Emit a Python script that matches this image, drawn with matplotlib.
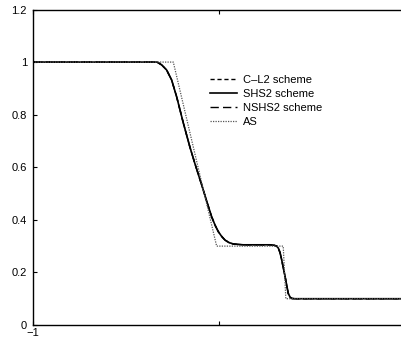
import matplotlib
matplotlib.use("Agg")
import matplotlib.pyplot as plt
import numpy as np

plt.rcParams["font.family"] = ["Liberation Sans", "DejaVu Sans"]

# exact solution (AS)
x_as = [-1.0, -0.243, -0.01, 0.348, 0.362, 1.0]
y_as = [1.0, 1.0, 0.30, 0.30, 0.10, 0.10]

# numerical schemes (curves sit on top of each other)
x_num = [-1.0, -0.33, -0.305, -0.279, -0.252, -0.225, -0.189, -0.153, -0.126,
         -0.117, -0.090, -0.063, -0.037, -0.018, -0.001, 0.017, 0.035, 0.055,
         0.080, 0.133, 0.20, 0.277, 0.300, 0.313, 0.322, 0.331, 0.340, 0.349,
         0.358, 0.367, 0.375, 0.385, 0.394, 0.41, 1.0]
y_cl2 = [1.0, 1.0, 0.989, 0.970, 0.932, 0.868, 0.768, 0.675, 0.612,
         0.592, 0.532, 0.470, 0.412, 0.379, 0.355, 0.337, 0.323, 0.314,
         0.308, 0.305, 0.305, 0.305, 0.303, 0.300, 0.292, 0.275, 0.247, 0.215,
         0.184, 0.150, 0.120, 0.106, 0.101, 0.100, 0.100]
y_shs2 = list(y_cl2)
y_nshs2 = list(y_cl2)

labels = ["C\u2013L2 scheme", "SHS2 scheme", "NSHS2 scheme", "AS"]
yticks = [0, 0.2, 0.4, 0.6, 0.8, 1, 1.2]
ytick_labels = ["0", "0.2", "0.4", "0.6", "0.8", "1", "1.2"]
xticks = [-1, 0, 1]
xtick_labels = ["\u22121", "", ""]

fig = plt.figure(figsize=(4.02, 3.39), dpi=100)
ax = fig.add_axes([32.5 / 402, 14 / 339, 372 / 402, 315.5 / 339])

ax.plot(x_num, y_cl2, color="black", lw=1.0, ls=(0, (3, 2)), label=labels[0])
ax.plot(x_num, y_shs2, color="black", lw=1.2, ls="-", label=labels[1])
ax.plot(x_num, y_nshs2, color="black", lw=1.0, ls=(0, (6, 3)), label=labels[2])
ax.plot(x_as, y_as, color="#555555", lw=0.9, ls=(0, (1, 1)), label=labels[3])

ax.set_xlim(-1, 1)
ax.set_ylim(0, 1.2)
ax.set_yticks(yticks)
ax.set_yticklabels(ytick_labels)
ax.set_xticks(xticks)
ax.set_xticklabels(xtick_labels)
ax.tick_params(direction="in", length=3, width=0.8, labelsize=8, pad=4,
               top=True, right=True)
ax.tick_params(axis="x", pad=2)
for s in ax.spines.values():
    s.set_linewidth(1.0)

ax.legend(loc="upper left", bbox_to_anchor=(210 / 402, 1 - 75 / 339),
          bbox_transform=fig.transFigure, frameon=False, fontsize=8,
          handlelength=2.4, handletextpad=0.6, labelspacing=0.35,
          borderpad=0, borderaxespad=0)

fig.savefig("out.png", dpi=100)
